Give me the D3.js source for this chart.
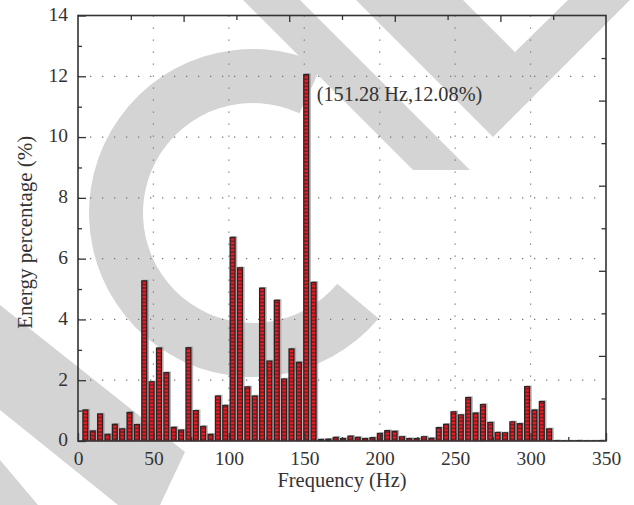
<!DOCTYPE html>
<html>
<head>
<meta charset="utf-8">
<script src="https://cdn.jsdelivr.net/npm/d3@7"></script>
<style>
  body { margin: 0; background: #fff; }
  svg { display: block; }
  text { font-family: "Liberation Serif", "Times New Roman", serif; fill: #333; }
</style>
</head>
<body>
<div id="chart"></div>
<script>
// frequency bins (Hz) and energy share (%)
const freqs = [4.88, 9.76, 14.64, 19.52, 24.40, 29.28, 34.16, 39.04, 43.92, 48.80,
  53.68, 58.56, 63.44, 68.32, 73.20, 78.08, 82.96, 87.84, 92.72, 97.60,
  102.48, 107.36, 112.24, 117.12, 122.00, 126.88, 131.76, 136.64, 141.52, 146.40,
  151.28, 156.16, 161.04, 165.92, 170.80, 175.68, 180.56, 185.44, 190.32, 195.20,
  200.08, 204.96, 209.84, 214.72, 219.60, 224.48, 229.36, 234.24, 239.12, 244.00,
  248.88, 253.76, 258.64, 263.52, 268.40, 273.28, 278.16, 283.04, 287.92, 292.80,
  297.68, 302.56, 307.44, 312.32, 317.20, 322.08, 326.96, 331.84, 336.72, 341.60, 346.48];
const energy = [1.04, 0.35, 0.91, 0.24, 0.57, 0.42, 0.96, 0.56, 5.29, 1.97,
  3.08, 2.27, 0.47, 0.38, 3.09, 1.02, 0.50, 0.24, 1.50, 1.19,
  6.72, 5.72, 1.80, 1.50, 5.05, 2.65, 4.65, 2.06, 3.05, 2.61,
  12.08, 5.24, 0.07, 0.08, 0.14, 0.10, 0.18, 0.14, 0.10, 0.13,
  0.27, 0.36, 0.34, 0.16, 0.10, 0.10, 0.16, 0.11, 0.46, 0.57,
  0.98, 0.88, 1.45, 0.94, 1.22, 0.63, 0.30, 0.29, 0.65, 0.59,
  1.81, 1.04, 1.32, 0.42, 0.03, 0.02, 0.02, 0.03, 0.02, 0.02, 0.03];
const xTicks = [0, 50, 100, 150, 200, 250, 300, 350];
const yTicks = [0, 2, 4, 6, 8, 10, 12, 14];
const peak = {freq: 151.28, value: 12.08, label: "(151.28 Hz,12.08%)"};

const W = 634, H = 505;
const margin = {top: 15.5, right: 28, bottom: 64, left: 78};

const svg = d3.select('#chart').append('svg')
  .attr('width', W).attr('height', H);

const x = d3.scaleLinear().domain([0, 350]).range([margin.left, W - margin.right]);
const y = d3.scaleLinear().domain([0, 14]).range([H - margin.bottom, margin.top]);
// top/right frame carries its own 10-step ticks
const x2 = d3.scaleLinear().domain([0, 10]).range(x.range());
const y2 = d3.scaleLinear().domain([0, 10]).range(y.range());

// background watermark shapes
const wm = svg.append('g').attr('fill', '#d4d4d4');
wm.append('path')
  .attr('transform', 'translate(253,213)')
  .attr('d', d3.arc()({innerRadius: 110, outerRadius: 164,
    startAngle: 130 * Math.PI / 180, endAngle: 385 * Math.PI / 180}));
const shapes = [
  [[243, 0], [300, 0], [470, 170], [413, 170]],
  [[356, 0], [463, 0], [515, 52], [568, 0], [630, 0], [493, 137]],
  [[0, 305], [185, 452], [160, 505], [118, 505], [0, 410]],
  [[0, 460], [38, 505], [0, 505]]
];
shapes.forEach(p => wm.append('path').attr('d', d3.line()(p) + 'Z'));

// grid
const grid = svg.append('g')
  .attr('stroke', '#777').attr('stroke-width', 1.2)
  .attr('stroke-dasharray', '1.3,10.7');
grid.selectAll('.gx').data(xTicks.slice(1, -1)).join('line')
  .attr('x1', d => x(d)).attr('x2', d => x(d))
  .attr('y1', y(14)).attr('y2', y(0));
grid.selectAll('.gy').data(yTicks.slice(1, -1)).join('line')
  .attr('x1', x(0)).attr('x2', x(350))
  .attr('y1', d => y(d)).attr('y2', d => y(d));

// cell pattern for bars
const defs = svg.append('defs');
const pat = defs.append('pattern').attr('id', 'cells')
  .attr('patternUnits', 'userSpaceOnUse').attr('width', 8).attr('height', 3.6);
pat.append('rect').attr('width', 8).attr('height', 3.6).attr('fill', '#3a1a1c');
pat.append('rect').attr('y', 0.5).attr('width', 8).attr('height', 2.6).attr('fill', '#f01a22');

const bw = (x(4.88) - x(0)) * 0.84;
const bars = svg.append('g');
const data = freqs.map((f, i) => ({f: f, v: energy[i]}));
bars.selectAll('.shadow').data(data).join('rect')
  .attr('x', d => x(d.f) - bw / 2 + 1.6)
  .attr('y', d => y(d.v) - 0.6)
  .attr('width', bw)
  .attr('height', d => y(0) - y(d.v) + 0.6)
  .attr('fill', '#9a9a9a').attr('opacity', 0.7);
bars.selectAll('.outer').data(data).join('rect')
  .attr('x', d => x(d.f) - bw / 2)
  .attr('y', d => y(d.v))
  .attr('width', bw)
  .attr('height', d => y(0) - y(d.v))
  .attr('fill', '#2a2224');
bars.selectAll('.inner').data(data.filter(d => y(0) - y(d.v) > 2.5)).join('rect')
  .attr('x', d => x(d.f) - bw / 2 + 1.3)
  .attr('y', d => y(d.v) + 1.2)
  .attr('width', bw - 2.6)
  .attr('height', d => y(0) - y(d.v) - 1.2)
  .attr('fill', 'url(#cells)');

// frame and ticks
const frameColor = '#333';
function styleAxis(g) {
  g.select('.domain').remove();
  g.selectAll('line').attr('stroke', frameColor).attr('stroke-width', 1.3);
  g.selectAll('text').attr('font-size', 19.5).style('font-family', '"Liberation Serif", serif').attr('fill', '#333');
}

svg.append('g')
  .attr('transform', `translate(0,${y(0)})`)
  .call(d3.axisBottom(x).tickValues(xTicks).tickSize(-8).tickPadding(10).tickFormat(d3.format('d')))
  .call(styleAxis);
svg.append('g')
  .attr('transform', `translate(0,${y(0)})`)
  .call(d3.axisBottom(x).tickValues([25, 75, 125, 175, 225, 275, 325]).tickSize(-4).tickFormat(''))
  .call(styleAxis);
svg.append('g')
  .attr('transform', `translate(${x(0)},0)`)
  .call(d3.axisLeft(y).tickValues(yTicks).tickSize(-8).tickPadding(10).tickFormat(d3.format('d')))
  .call(styleAxis)
  .selectAll('text').attr('dy', '0.25em');
svg.append('g')
  .attr('transform', `translate(${x(0)},0)`)
  .call(d3.axisLeft(y).tickValues([1, 3, 5, 7, 9, 11, 13]).tickSize(-4).tickFormat(''))
  .call(styleAxis);
svg.append('g')
  .attr('transform', `translate(0,${y(14)})`)
  .call(d3.axisTop(x2).tickValues([2, 4, 6, 8]).tickSize(-6.5).tickFormat(''))
  .call(styleAxis);
svg.append('g')
  .attr('transform', `translate(0,${y(14)})`)
  .call(d3.axisTop(x2).tickValues([1, 3, 5, 7, 9]).tickSize(-4.5).tickFormat(''))
  .call(styleAxis);
svg.append('g')
  .attr('transform', `translate(${x(350)},0)`)
  .call(d3.axisRight(y2).tickValues([2, 4, 6, 8]).tickSize(-7).tickFormat(''))
  .call(styleAxis);
svg.append('g')
  .attr('transform', `translate(${x(350)},0)`)
  .call(d3.axisRight(y2).tickValues([1, 3, 5, 7, 9]).tickSize(-4.5).tickFormat(''))
  .call(styleAxis);

svg.append('rect')
  .attr('x', x(0)).attr('y', y(14))
  .attr('width', x(350) - x(0)).attr('height', y(0) - y(14))
  .attr('fill', 'none').attr('stroke', frameColor).attr('stroke-width', 1.6);

// labels
svg.append('text')
  .attr('x', (x(0) + x(350)) / 2).attr('y', 487)
  .attr('text-anchor', 'middle').attr('font-size', 20.5)
  .text('Frequency (Hz)');
svg.append('text')
  .attr('transform', `translate(32,${(y(0) + y(14)) / 2 + 4}) rotate(-90)`)
  .attr('text-anchor', 'middle').attr('font-size', 21)
  .text('Energy percentage (%)');
svg.append('text')
  .attr('x', x(peak.freq) + 10.5).attr('y', 100.5)
  .attr('font-size', 20.3)
  .text(peak.label);
</script>
</body>
</html>
